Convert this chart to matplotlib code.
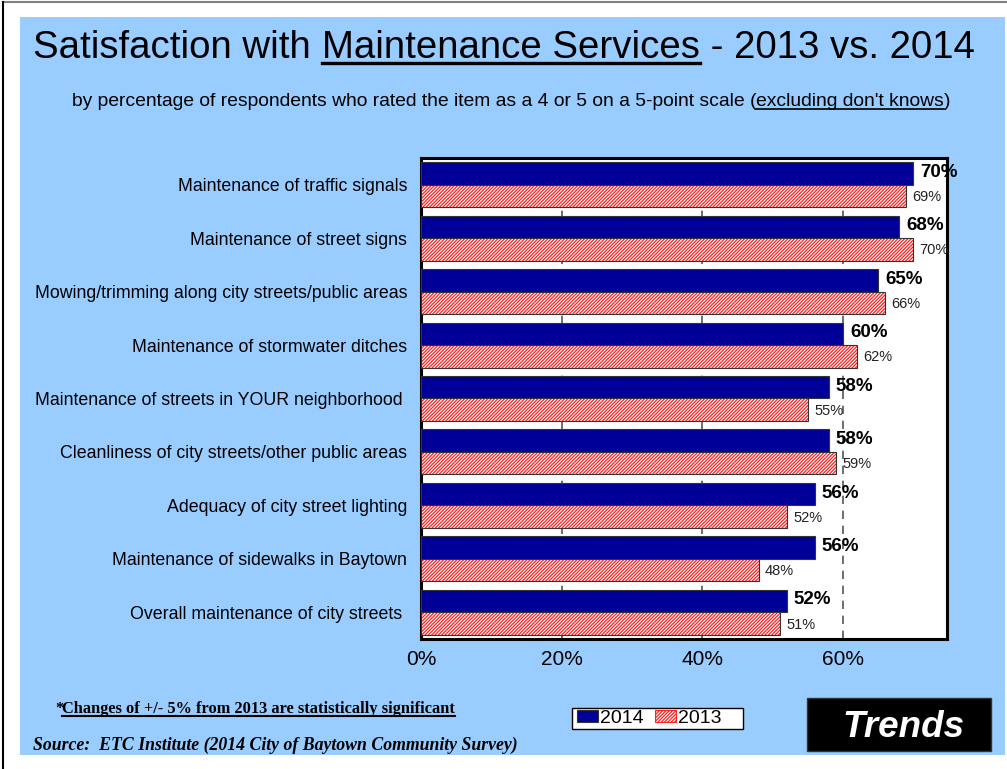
import numpy as np
import matplotlib
matplotlib.use("Agg")
import matplotlib.pyplot as plt
from matplotlib.patches import Rectangle, Patch
from matplotlib.lines import Line2D

categories = [
    "Maintenance of traffic signals",
    "Maintenance of street signs",
    "Mowing/trimming along city streets/public areas",
    "Maintenance of stormwater ditches",
    "Maintenance of streets in YOUR neighborhood ",
    "Cleanliness of city streets/other public areas",
    "Adequacy of city street lighting",
    "Maintenance of sidewalks in Baytown",
    "Overall maintenance of city streets ",
]
values_2014 = [70, 68, 65, 60, 58, 58, 56, 56, 52]
values_2013 = [69, 70, 66, 62, 55, 59, 52, 48, 51]
x_ticks = [0, 20, 40, 60]
x_tick_labels = ["0%", "20%", "40%", "60%"]

NAVY = "#000099"
RED = "#FF2020"
BLUE_BG = "#99CCFF"
SANS = "Liberation Sans"
SERIF = "Liberation Serif"

plt.rcParams["hatch.linewidth"] = 0.9

W, H = 1007, 769
fig = plt.figure(figsize=(W / 100, H / 100), dpi=100)
fig.patch.set_facecolor("white")


def fx(px):
    return px / W


def fy(py):
    return 1 - py / H


# page frame and light-blue slide background
fig.add_artist(Line2D([fx(3), fx(1007)], [fy(1.5), fy(1.5)], color="#808080", lw=1.5))
fig.add_artist(Line2D([fx(3), fx(3)], [fy(1.5), fy(769)], color="black", lw=1.5))
fig.add_artist(Rectangle((fx(20), fy(755)), fx(1005) - fx(20), fy(17) - fy(755),
                         facecolor=BLUE_BG, edgecolor="none", zorder=0))

renderer = fig.canvas.get_renderer()


def text_width(s, **kw):
    t = fig.text(0, 0, s, **kw)
    w = t.get_window_extent(renderer).width
    t.remove()
    return w


def underlined_text(x_px, y_px, parts, ha="center", lw=1.5, offset=3, **kw):
    """Draw text made of (string, underline?) parts; baseline at y_px."""
    widths = [text_width(p, **kw) for p, _ in parts]
    total = sum(widths)
    if ha == "center":
        x0 = x_px - total / 2
    else:
        x0 = x_px
    cur = x0
    for (p, ul), w in zip(parts, widths):
        fig.text(fx(cur), fy(y_px), p, ha="left", va="baseline", **kw)
        if ul:
            s = p.rstrip()
            lead = len(p) - len(p.lstrip())
            lx = cur + (text_width(p[:lead], **kw) if lead else 0)
            wl = text_width(s.strip(), **kw)
            fig.add_artist(Line2D([fx(lx), fx(lx + wl)], [fy(y_px + offset), fy(y_px + offset)],
                                  color=kw.get("color", "black"), lw=lw))
        cur += w


# title and subtitle
underlined_text(504, 58, [("Satisfaction with ", False), ("Maintenance Services", True),
                          (" - 2013 vs. 2014", False)],
                fontsize=27.6, family=SANS, color="black", lw=2.4, offset=5)
underlined_text(511, 106, [("by percentage of respondents who rated the item as a 4 or 5 on a 5-point scale (", False),
                           ("excluding don't knows", True), (")", False)],
                fontsize=13.9, family=SANS, color="black", lw=1.2, offset=3)

# main chart
ax = fig.add_axes([fx(421), fy(639), fx(947) - fx(421), fy(158) - fy(639)])
ax.set_facecolor("white")
y = np.arange(len(categories))
h = 0.42

ax.barh(y - h / 2, values_2014, height=h, color=NAVY, edgecolor="#333333", lw=0.8, zorder=3)
ax.barh(y + h / 2, values_2013, height=h, color="white", edgecolor=RED, hatch="//////////",
        lw=0, zorder=3)
ax.barh(y + h / 2, values_2013, height=h, fill=False, edgecolor="#333333", lw=0.8, zorder=4)

for yi, v in zip(y, values_2014):
    ax.text(v + 1.0, yi - h / 2 - 0.02, f"{v}%", fontsize=13.5, fontweight="bold",
            family=SANS, color="black", va="center", ha="left", zorder=6, clip_on=False)
for yi, v in zip(y, values_2013):
    ax.text(v + 0.9, yi + h / 2 + 0.02, f"{v}%", fontsize=10.5, family=SANS,
            color="#222222", va="center", ha="left", zorder=6, clip_on=False)

ax.set_xlim(0, 74.8)
ax.set_ylim(len(categories) - 0.5, -0.5)
ax.set_xticks(x_ticks)
ax.set_xticklabels(x_tick_labels, fontsize=15, family=SANS)
ax.set_yticks(y)
ax.set_yticklabels(categories, fontsize=12.8, family=SANS)
ax.tick_params(axis="y", length=0, pad=10)
ax.tick_params(axis="x", length=0, pad=8)
for xv in x_ticks[1:]:
    ax.axvline(xv, color="#555555", lw=1.2, ls=(0, (5, 4)), zorder=1)
for s in ax.spines.values():
    s.set_linewidth(2.2)
    s.set_color("black")

# legend: white framed box with the two series keys at its left
fig.add_artist(Rectangle((fx(572), fy(729)), fx(743) - fx(572), fy(708) - fy(729),
                         facecolor="white", edgecolor="black", lw=1.0, zorder=4))
handles = [Patch(facecolor=NAVY, edgecolor="#333333", lw=0.8, label="2014"),
           Patch(facecolor="white", edgecolor=RED, hatch="//////////", lw=0.8, label="2013")]
leg = fig.legend(handles=handles, loc="center left", bbox_to_anchor=(fx(575), fy(718.5)), ncol=2,
                 prop={"family": SANS, "size": 14}, frameon=False,
                 handlelength=1.1, handleheight=0.6, handletextpad=0.1,
                 columnspacing=0.55, borderpad=0.1, borderaxespad=0)
leg.set_zorder(5)

# footnote and source
fig.text(fx(55), fy(713), "*", fontsize=11.8, family=SERIF, fontweight="bold", va="baseline")
underlined_text(62, 713, [("Changes of +/- 5% from 2013 are statistically significant", True)],
                ha="left", fontsize=11.8, family=SERIF, fontweight="bold", color="black",
                lw=1.5, offset=3)
fig.text(fx(33), fy(750), "Source:  ETC Institute (2014 City of Baytown Community Survey)",
         fontsize=12.8, family=SERIF, fontweight="bold", style="italic", va="baseline")

# "Trends" tag
fig.add_artist(Rectangle((fx(807), fy(751)), fx(991) - fx(807), fy(698) - fy(751),
                         facecolor="black", edgecolor="#333333", lw=1, zorder=5))
underlined_text(903, 737, [("Trends", True)], fontsize=26.5, family=SANS, fontweight="bold",
                style="italic", color="white", lw=2.5, offset=5, zorder=6)

fig.savefig("out.png", dpi=100, facecolor=fig.get_facecolor())
